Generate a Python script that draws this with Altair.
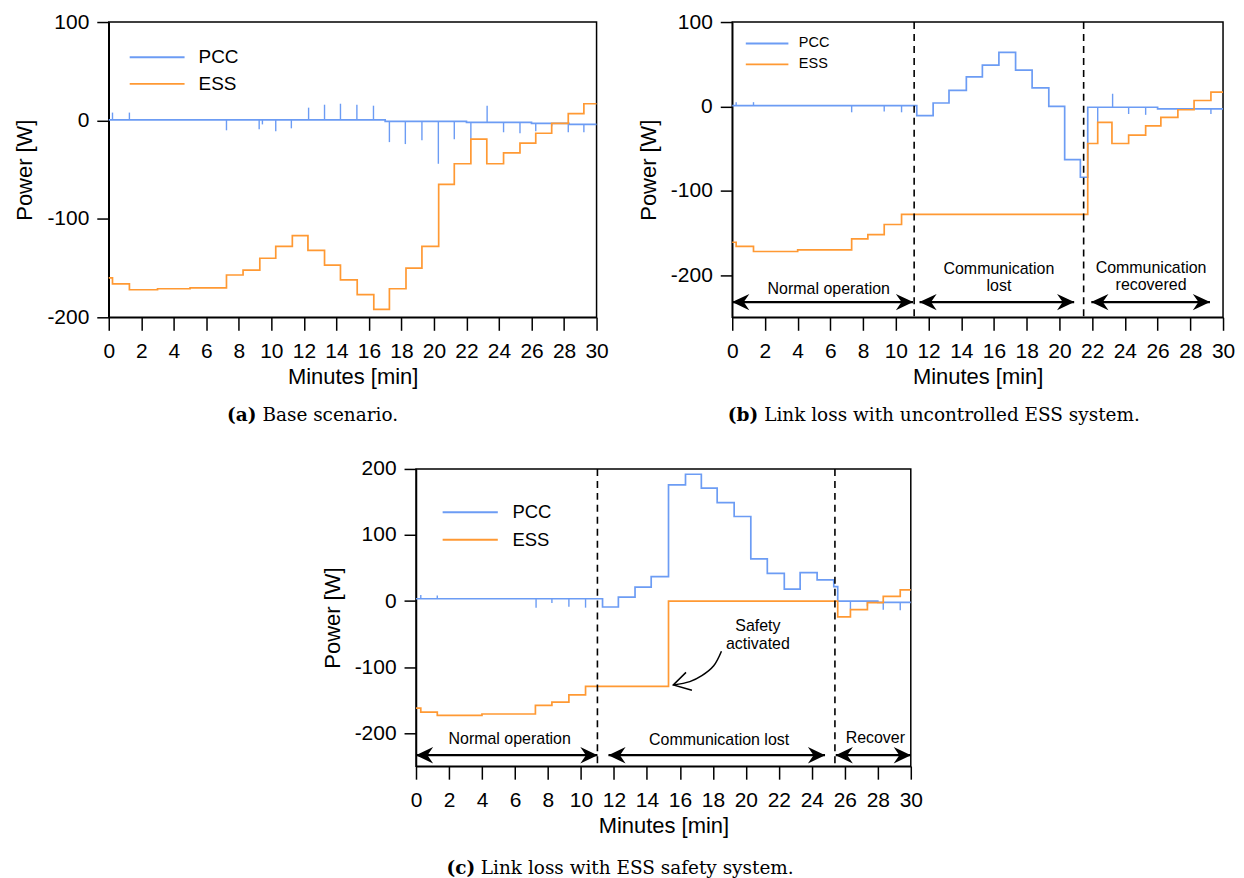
import altair as alt
import pandas as pd
import numpy as np

SANS = "Liberation Sans"
SERIF = "DejaVu Serif"
SERIES = ["PCC", "ESS"]
COLORS = ["#6c9cf4", "#ff9933"]
X_TICKS = list(range(0, 31, 2))

# ---------------- panel (a) ----------------
A_PCC_T = [0, 17, 22, 26, 28.3, 30]
A_PCC_V = [0.5, -1, -2, -3, -4, -4]
A_ESS_T = [0, 0.23, 1.27, 3.0, 5.0, 7.24, 8.26, 9.29, 10.27, 11.29, 12.25, 13.27, 14.25, 15.28,
           16.3, 17.26, 18.28, 19.26, 20.29, 21.25, 22.27, 23.25, 24.28, 25.29, 26.26, 27.24,
           28.26, 29.22, 30]
A_ESS_V = [-160, -166, -172, -171, -170, -157, -152, -140, -128, -117, -132, -147, -162, -177,
           -192, -171, -150, -128, -65, -44, -19, -44, -33, -23, -13, -3, 7, 17, 17]
A_SPIKE_T = [0.23, 1.27, 7.24, 9.25, 9.45, 10.27, 11.23, 12.29, 13.27, 14.25, 15.26, 16.28, 17.26,
             18.24, 19.26, 20.27, 21.25, 22.27, 23.27, 24.28, 25.29, 26.26, 27.24, 28.26, 29.22]
A_SPIKE_V = [8, 8, -10, -9, -4, -11, -8, 13, 16, 17, 16, 15, -22, -24, -20, -44, -19, -19, 15,
             -12, -13, -11, -6, -12, -12]

# ---------------- panel (b) ----------------
B_PCC_T = [0, 11.28, 12.28, 13.25, 14.31, 15.29, 16.3, 17.32, 18.33, 19.35, 20.32, 21.28, 21.73, 26, 30]
B_PCC_V = [1, -11, 4, 19, 35, 49, 64, 43, 22, 0, -63, -84, -1, -3, -3]
B_ESS_T = [0, 0.24, 1.3, 4.0, 7.3, 8.29, 9.29, 10.35, 21.73, 22.34, 23.21, 24.23, 25.27, 26.2,
           27.24, 28.23, 29.26, 30]
B_ESS_V = [-161, -166, -172, -170, -157, -152, -140, -128, -44, -19, -44, -34, -23, -13, -4, 7, 17, 17]
B_SPIKE_T = [0.24, 1.3, 7.3, 9.29, 10.35, 22.34, 23.25, 24.23, 25.27, 29.26]
B_SPIKE_V = [5, 5, -7, -6, -7, -19, 15, -9, -10, -9]
B_DASH_T = [11.12, 21.48]
B_ARROW_START = [0, 11.45, 21.95]
B_ARROW_END = [11.05, 20.9, 29.2]
B_ARROW_V = -232
B_LABEL_TEXT = ["Normal operation", "Communication", "lost", "Communication", "recovered"]
B_LABEL_T = [5.9, 16.3, 16.3, 25.6, 25.6]
B_LABEL_V = [-216, -192.5, -213.4, -191.4, -212.2]

# ---------------- panel (c) ----------------
C_PCC_T = [0, 11.31, 12.27, 13.28, 14.26, 15.31, 16.34, 17.3, 18.26, 19.29, 20.3, 21.3, 22.33,
           23.29, 24.32, 25.33, 25.57, 28, 30]
C_PCC_V = [3.5, -9, 6, 21, 37, 176, 192, 171, 149, 128, 64, 42, 18, 43, 32, 22, 0, -2, -2]
C_ESS_T = [0, 0.29, 1.29, 4.0, 7.24, 8.24, 9.27, 10.28, 15.31, 25.57, 26.34, 27.37, 28.33, 29.36, 30]
C_ESS_V = [-162, -168, -173, -171, -158, -153, -142, -129, 0, -24, -13, -2.5, 7, 17, 17]
C_SPIKE_T = [0.29, 1.29, 7.28, 8.24, 9.27, 10.28, 26.34, 27.37, 28.33, 29.36]
C_SPIKE_V = [9, 8.6, -10, -3, -8.6, -10, -12, -8, -13, -14]
C_DASH_T = [11.0, 25.4]
C_ARROW_START = [0, 11.67, 25.45]
C_ARROW_END = [11.0, 24.8, 30]
C_ARROW_V = -233.3
C_LABEL_TEXT = ["Normal operation", "Communication lost", "Recover", "Safety", "activated"]
C_LABEL_T = [5.68, 18.38, 27.85, 20.73, 20.73]
C_LABEL_V = [-208.6, -210.6, -207.6, -38, -65]
C_CURVE_T = [18.52, 18.05, 17.33, 16.6, 15.6]
C_CURVE_V = [-76, -98, -113, -122, -127]
C_HEAD_T = [16.37, 15.6, 16.73]
C_HEAD_V = [-108, -127, -135]

CAP_TAGS = ["(a)", "(b)", "(c)"]
CAP_TEXTS = ["Base scenario.", "Link loss with uncontrolled ESS system.", "Link loss with ESS safety system."]

LEFT_HEAD = "M-1,0 L1,-0.95 L0.35,0 L1,0.95 Z"
RIGHT_HEAD = "M1,0 L-1,-0.95 L-0.35,0 L-1,0.95 Z"


def steps(t, v):
    return pd.DataFrame({"t": t, "v": v})


def spikes(st, sv, pt, pv):
    idx = np.searchsorted(np.array(pt), np.array(st), side="right") - 1
    base = [pv[i] for i in idx]
    return pd.DataFrame({"t": st, "v": base, "v2": sv})


def panel(w, h, ydom, yticks, pcc, ess, spk, legend, cap_i, cap, dash=None, arrows=None,
          labels=None, curve=None):
    xaxis = alt.Axis(values=X_TICKS, title="Minutes [min]", grid=False, tickSize=13, tickWidth=1.5,
                     domainWidth=1.5, domainColor="black", tickColor="black", labelPadding=10,
                     labelFontSize=21, labelFont=SANS, labelColor="black", labelFlush=False,
                     labelOverlap=False, titleFontSize=22, titleFont=SANS, titleFontWeight="normal",
                     titleColor="black", titlePadding=4, minExtent=45, maxExtent=45)
    yaxis = alt.Axis(values=yticks, title="Power [W]", grid=False, tickSize=12, tickWidth=1.5,
                     domainWidth=1.5, domainColor="black", tickColor="black", labelPadding=8,
                     labelFontSize=21, labelFont=SANS, labelColor="black", labelFlush=False,
                     labelOverlap=False, titleFontSize=22, titleFont=SANS, titleFontWeight="normal",
                     titleColor="black", titlePadding=8, minExtent=64, maxExtent=64,
                     labelExpr="datum.value < 0 ? '-' + abs(datum.value) : '' + datum.value")
    X = alt.X("t:Q", scale=alt.Scale(domain=[0, 30], nice=False, zero=False), axis=xaxis)
    Y = alt.Y("v:Q", scale=alt.Scale(domain=ydom, nice=False, zero=False), axis=yaxis)

    layers = []
    layers.append(alt.Chart(pcc).mark_line(interpolate="step-after", color=COLORS[0], strokeWidth=1.7)
                  .encode(x=X, y=Y))
    layers.append(alt.Chart(spk).mark_rule(color=COLORS[0], strokeWidth=1.4)
                  .encode(x=X, y=Y, y2="v2:Q"))
    layers.append(alt.Chart(ess).mark_line(interpolate="step-after", color=COLORS[1], strokeWidth=1.7)
                  .encode(x=X, y=Y))
    if dash is not None:
        layers.append(alt.Chart(pd.DataFrame({"t": dash})).mark_rule(color="black", strokeWidth=1.6,
                                                                     strokeDash=[7, 5]).encode(x=X))
    if arrows is not None:
        st, en, av = arrows
        adf = pd.DataFrame({"t": st, "t2": en, "v": [av] * len(st)})
        layers.append(alt.Chart(adf).mark_rule(color="black", strokeWidth=2.2)
                      .encode(x=X, x2="t2:Q", y=Y))
        layers.append(alt.Chart(pd.DataFrame({"t": st, "v": [av] * len(st)}))
                      .mark_point(shape=LEFT_HEAD, filled=True, color="black", opacity=1, size=300,
                                  xOffset=8.5).encode(x=X, y=Y))
        layers.append(alt.Chart(pd.DataFrame({"t": en, "v": [av] * len(en)}))
                      .mark_point(shape=RIGHT_HEAD, filled=True, color="black", opacity=1, size=300,
                                  xOffset=-8.5).encode(x=X, y=Y))
    if labels is not None:
        lt, lx, lv = labels
        layers.append(alt.Chart(pd.DataFrame({"txt": lt, "t": lx, "v": lv}))
                      .mark_text(font=SANS, fontSize=16, color="black", baseline="middle", align="center")
                      .encode(x=X, y=Y, text="txt:N"))
    if curve is not None:
        ct, cv, ht, hv = curve
        layers.append(alt.Chart(pd.DataFrame({"t": ct, "v": cv, "o": list(range(len(ct)))}))
                      .mark_line(interpolate="catmull-rom", color="black", strokeWidth=1.5)
                      .encode(x=X, y=Y, order="o:Q"))
        layers.append(alt.Chart(pd.DataFrame({"t": ht, "v": hv, "o": list(range(len(ht)))}))
                      .mark_line(color="black", strokeWidth=1.5)
                      .encode(x=X, y=Y, order="o:Q"))

    # legend (pixel placement inside the plot)
    lx0, lx1, ly0, dy, tx, fs = legend
    for i, name in enumerate(SERIES):
        d = pd.DataFrame({"s": [name]})
        layers.append(alt.Chart(d).mark_rule(color=COLORS[i], strokeWidth=1.8)
                      .encode(x=alt.value(lx0), x2=alt.value(lx1), y=alt.value(ly0 + i * dy)))
        layers.append(alt.Chart(d).mark_text(font=SANS, fontSize=fs, color="black", align="left",
                                             baseline="middle")
                      .encode(x=alt.value(tx), y=alt.value(ly0 + i * dy), text="s:N"))

    # caption below the panel
    cx_tag, cx_txt, cy = cap
    layers.append(alt.Chart(pd.DataFrame({"s": [CAP_TAGS[cap_i]]}))
                  .mark_text(font=SERIF, fontSize=18.5, fontWeight="bold", color="black", align="right",
                             baseline="middle")
                  .encode(x=alt.value(cx_tag), y=alt.value(cy), text="s:N"))
    layers.append(alt.Chart(pd.DataFrame({"s": [CAP_TEXTS[cap_i]]}))
                  .mark_text(font=SERIF, fontSize=18.5, color="black", align="left", baseline="middle")
                  .encode(x=alt.value(cx_txt), y=alt.value(cy), text="s:N"))

    return alt.layer(*layers).properties(
        width=w, height=h, view=alt.ViewBackground(stroke="black", strokeWidth=1.5, fill="white"))


ca = panel(489, 296, [-200, 100], [-200, -100, 0, 100],
           steps(A_PCC_T, A_PCC_V), steps(A_ESS_T, A_ESS_V), spikes(A_SPIKE_T, A_SPIKE_V, A_PCC_T, A_PCC_V),
           (21, 76, 35.3, 26.7, 90, 19), 0, (148, 154, 393.5))
cb = panel(492, 296, [-250, 100], [-200, -100, 0, 100],
           steps(B_PCC_T, B_PCC_V), steps(B_ESS_T, B_ESS_V), spikes(B_SPIKE_T, B_SPIKE_V, B_PCC_T, B_PCC_V),
           (13.6, 56.3, 21.5, 21, 66.8, 14.5), 1, (26, 32, 393.5),
           dash=B_DASH_T, arrows=(B_ARROW_START, B_ARROW_END, B_ARROW_V),
           labels=(B_LABEL_TEXT, B_LABEL_T, B_LABEL_V))
cc = panel(496, 298, [-250, 200], [-200, -100, 0, 100, 200],
           steps(C_PCC_T, C_PCC_V), steps(C_ESS_T, C_ESS_V), spikes(C_SPIKE_T, C_SPIKE_V, C_PCC_T, C_PCC_V),
           (26.7, 82, 43.4, 27.6, 96.7, 18.5), 2, (59.3, 65, 400),
           dash=C_DASH_T, arrows=(C_ARROW_START, C_ARROW_END, C_ARROW_V),
           labels=(C_LABEL_TEXT, C_LABEL_T, C_LABEL_V),
           curve=(C_CURVE_T, C_CURVE_V, C_HEAD_T, C_HEAD_V))

spacer = alt.Chart(pd.DataFrame({"t": [0]})).mark_point(opacity=0).encode(
    x=alt.value(0), y=alt.value(0)).properties(
    width=211, height=10, view=alt.ViewBackground(stroke="transparent"))

top_row = alt.hconcat(ca, cb, spacing=27)
bottom_row = alt.hconcat(spacer, cc, spacing=0)
chart = alt.vconcat(top_row, bottom_row, spacing=32).properties(
    padding={"left": 5, "top": 1, "right": 0, "bottom": 0}, background="white")

chart.save("out.html", embed_options={"renderer": "svg", "actions": False})
